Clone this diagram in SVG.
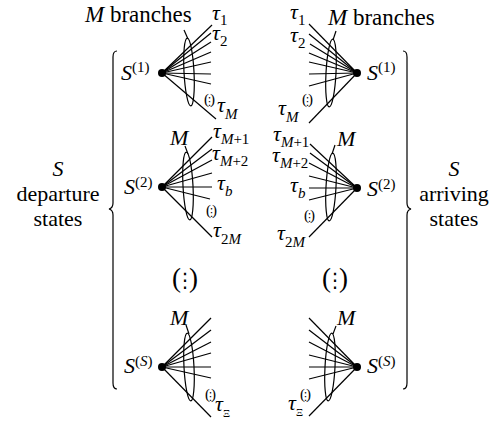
<svg xmlns="http://www.w3.org/2000/svg" width="497" height="421" viewBox="0 0 497 421">
<style>
text{font-family:"Liberation Serif","Times New Roman",serif;font-size:22px;fill:#000}
.i{font-style:italic}
.sub{font-size:15px}
.p{font-size:15px}
.vd{font-family:"DejaVu Sans",sans-serif;font-size:11px;text-anchor:middle}
.big{font-size:27px}
.bvd{font-family:"DejaVu Sans",sans-serif;font-size:20px;text-anchor:middle}
line,path,ellipse{stroke:#000;fill:none;stroke-width:1.2}
.dot{fill:#000;stroke:none}
</style>
<rect width="497" height="421" fill="#fff"/>

<g id="brace-left">
<path d="M117,51 Q113,51 113,57 L113,203 Q113,208 109,209 Q113,210 113,215 L113,383 Q113,389 117,389"/>
</g>
<g id="brace-right">
<path d="M403,51 Q407,51 407,57 L407,203 Q407,208 411,209 Q407,210 407,215 L407,383 Q407,389 403,389"/>
</g>

<g id="label-departure">
<text x="58" y="176" text-anchor="middle" class="i">S</text>
<text x="58" y="201" text-anchor="middle">departure</text>
<text x="58" y="226" text-anchor="middle">states</text>
</g>
<g id="label-arriving">
<text x="454" y="176" text-anchor="middle" class="i">S</text>
<text x="454" y="201" text-anchor="middle">arriving</text>
<text x="454" y="226" text-anchor="middle">states</text>
</g>

<g id="connectors">
<!-- left fan 1 -->
<line x1="162" y1="73" x2="212" y2="25"/>
<line x1="162" y1="73" x2="211" y2="33"/>
<line x1="162" y1="73" x2="211" y2="42"/>
<line x1="162" y1="73" x2="211" y2="52"/>
<line x1="162" y1="73" x2="211" y2="62"/>
<line x1="162" y1="73" x2="211" y2="74"/>
<line x1="162" y1="73" x2="211" y2="84"/>
<line x1="162" y1="73" x2="216" y2="119"/>
<!-- left fan 2 -->
<line x1="162" y1="187" x2="212" y2="137"/>
<line x1="162" y1="187" x2="212" y2="149"/>
<line x1="162" y1="187" x2="212" y2="160"/>
<line x1="162" y1="187" x2="212" y2="173"/>
<line x1="162" y1="187" x2="212" y2="187"/>
<line x1="162" y1="187" x2="210" y2="199"/>
<line x1="162" y1="187" x2="212" y2="237"/>
<!-- left fan 3 -->
<line x1="162" y1="367" x2="211" y2="318"/>
<line x1="162" y1="367" x2="211" y2="330"/>
<line x1="162" y1="367" x2="211" y2="342"/>
<line x1="162" y1="367" x2="211" y2="353"/>
<line x1="162" y1="367" x2="211" y2="367"/>
<line x1="162" y1="367" x2="211" y2="378"/>
<line x1="162" y1="367" x2="211" y2="417"/>
<!-- right fan 1 -->
<line x1="357" y1="73" x2="309" y2="24"/>
<line x1="357" y1="73" x2="309" y2="34"/>
<line x1="357" y1="73" x2="310" y2="44"/>
<line x1="357" y1="73" x2="309" y2="53"/>
<line x1="357" y1="73" x2="309" y2="62"/>
<line x1="357" y1="73" x2="309" y2="74"/>
<line x1="357" y1="73" x2="309" y2="86"/>
<line x1="357" y1="73" x2="309" y2="123"/>
<!-- right fan 2 -->
<line x1="357" y1="188" x2="310" y2="144"/>
<line x1="357" y1="188" x2="310" y2="153"/>
<line x1="357" y1="188" x2="309" y2="163"/>
<line x1="357" y1="188" x2="309" y2="176"/>
<line x1="357" y1="188" x2="309" y2="188"/>
<line x1="357" y1="188" x2="309" y2="200"/>
<line x1="357" y1="188" x2="309" y2="237"/>
<!-- right fan 3 -->
<line x1="357" y1="367" x2="309" y2="318"/>
<line x1="357" y1="367" x2="309" y2="330"/>
<line x1="357" y1="367" x2="309" y2="342"/>
<line x1="357" y1="367" x2="309" y2="355"/>
<line x1="357" y1="367" x2="309" y2="367"/>
<line x1="357" y1="367" x2="309" y2="379"/>
<line x1="357" y1="367" x2="309" y2="416"/>
</g>

<g id="fan-left-1">
<ellipse cx="189" cy="72" rx="5" ry="34" transform="rotate(-3 189 72)"/>
<line x1="184" y1="30" x2="188" y2="39"/>
<circle class="dot" cx="162" cy="73" r="4"/>
<text x="85" y="22" style="font-size:23px"><tspan class="i">M</tspan> branches</text>
<text x="121" y="80"><tspan class="i">S</tspan><tspan class="sub" dy="-8">(1)</tspan></text>
<text x="212" y="20" class="i">τ<tspan class="sub" dy="5" font-style="normal">1</tspan></text>
<text x="212" y="40" class="i">τ<tspan class="sub" dy="6" font-style="normal">2</tspan></text>
<text x="204" y="104" class="p">(<tspan class="vd" x="209.5" dy="0.5">⋮</tspan><tspan x="210" dy="-0.5">)</tspan></text>
<text x="217" y="112" class="i">τ<tspan class="sub" dy="7">M</tspan></text>
</g>

<g id="fan-left-2">
<ellipse cx="188" cy="186" rx="5" ry="34" transform="rotate(-3 188 186)"/>
<line x1="185" y1="146" x2="188" y2="154"/>
<circle class="dot" cx="162" cy="187" r="4"/>
<text x="170" y="145" class="i">M</text>
<text x="124" y="194"><tspan class="i">S</tspan><tspan class="sub" dy="-7">(2)</tspan></text>
<text x="213" y="138" class="i">τ<tspan class="sub" dy="6">M</tspan><tspan class="sub" font-style="normal">+1</tspan></text>
<text x="212" y="160" class="i">τ<tspan class="sub" dy="6">M</tspan><tspan class="sub" font-style="normal">+2</tspan></text>
<text x="217" y="190" class="i">τ<tspan class="sub" dy="6">b</tspan></text>
<text x="206" y="215" class="p">(<tspan class="vd" x="211.5" dy="0.5">⋮</tspan><tspan x="212" dy="-0.5">)</tspan></text>
<text x="213" y="237" class="i">τ<tspan class="sub" dy="7" font-style="normal">2</tspan><tspan class="sub">M</tspan></text>
</g>

<g id="fan-left-3">
<ellipse cx="189" cy="367" rx="5" ry="34" transform="rotate(-3 189 367)"/>
<line x1="186" y1="325" x2="189" y2="334"/>
<circle class="dot" cx="162" cy="367" r="4"/>
<text x="170" y="325" class="i">M</text>
<text x="124" y="373"><tspan class="i">S</tspan><tspan class="sub" dy="-7">(<tspan class="i">S</tspan>)</tspan></text>
<text x="205" y="399" class="p">(<tspan class="vd" x="210.5" dy="0.5">⋮</tspan><tspan x="211" dy="-0.5">)</tspan></text>
<text x="215" y="411" class="i">τ<tspan style="font-size:11px" dy="6" font-style="normal">Ξ</tspan></text>
</g>

<g id="fan-right-1">
<ellipse cx="331" cy="73" rx="5" ry="34" transform="rotate(3 331 73)"/>
<line x1="336" y1="31" x2="333" y2="40"/>
<circle class="dot" cx="357" cy="73" r="4"/>
<text x="328" y="25" style="font-size:23px"><tspan class="i">M</tspan> branches</text>
<text x="367" y="80"><tspan class="i">S</tspan><tspan class="sub" dy="-8">(1)</tspan></text>
<text x="290" y="19" class="i">τ<tspan class="sub" dy="6" font-style="normal">1</tspan></text>
<text x="290" y="42" class="i">τ<tspan class="sub" dy="6" font-style="normal">2</tspan></text>
<text x="302" y="104" class="p">(<tspan class="vd" x="307.5" dy="0.5">⋮</tspan><tspan x="308" dy="-0.5">)</tspan></text>
<text x="278" y="115" class="i">τ<tspan class="sub" dy="7">M</tspan></text>
</g>

<g id="fan-right-2">
<ellipse cx="331" cy="187" rx="5" ry="34" transform="rotate(3 331 187)"/>
<line x1="335" y1="145" x2="332" y2="154"/>
<circle class="dot" cx="357" cy="188" r="4"/>
<text x="337" y="146" class="i">M</text>
<text x="367" y="196"><tspan class="i">S</tspan><tspan class="sub" dy="-7">(2)</tspan></text>
<text x="273" y="141" class="i">τ<tspan class="sub" dy="6">M</tspan><tspan class="sub" font-style="normal">+1</tspan></text>
<text x="272" y="162" class="i">τ<tspan class="sub" dy="6">M</tspan><tspan class="sub" font-style="normal">+2</tspan></text>
<text x="290" y="192" class="i">τ<tspan class="sub" dy="6">b</tspan></text>
<text x="304" y="220" class="p">(<tspan class="vd" x="309.5" dy="0.5">⋮</tspan><tspan x="310" dy="-0.5">)</tspan></text>
<text x="277" y="240" class="i">τ<tspan class="sub" dy="7" font-style="normal">2</tspan><tspan class="sub">M</tspan></text>
</g>

<g id="fan-right-3">
<ellipse cx="330" cy="367" rx="5" ry="34" transform="rotate(3 330 367)"/>
<line x1="336" y1="326" x2="333" y2="334"/>
<circle class="dot" cx="357" cy="367" r="4"/>
<text x="337" y="325" class="i">M</text>
<text x="367" y="373"><tspan class="i">S</tspan><tspan class="sub" dy="-7">(<tspan class="i">S</tspan>)</tspan></text>
<text x="300" y="399" class="p">(<tspan class="vd" x="305.5" dy="0.5">⋮</tspan><tspan x="306" dy="-0.5">)</tspan></text>
<text x="288" y="410" class="i">τ<tspan style="font-size:11px" dy="6" font-style="normal">Ξ</tspan></text>
</g>

<g id="ellipsis-left">
<text x="172" y="287" class="big">(<tspan class="bvd" x="185">⋮</tspan><tspan x="189">)</tspan></text>
</g>
<g id="ellipsis-right">
<text x="322" y="287" class="big">(<tspan class="bvd" x="335">⋮</tspan><tspan x="339">)</tspan></text>
</g>
</svg>
